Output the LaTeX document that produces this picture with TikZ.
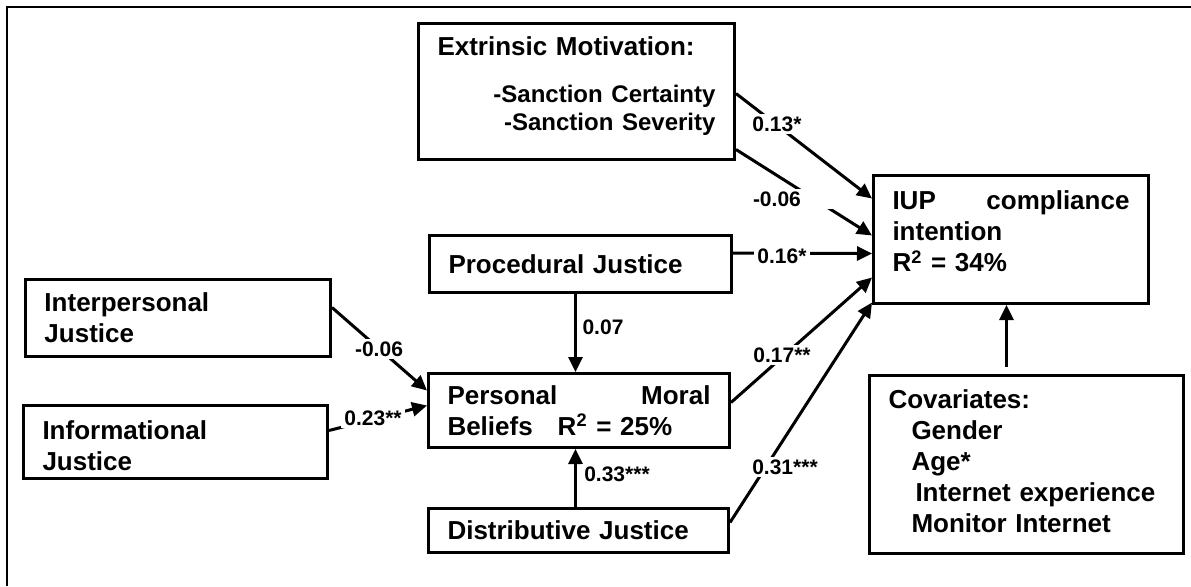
\documentclass[tikz,border=0pt]{standalone}
\usepackage{fontspec}
\setmainfont{Liberation Sans}
\usetikzlibrary{positioning}
\usetikzlibrary{arrows.meta}

\newcommand{\varfont}{\fontsize{13}{15.5}\selectfont\bfseries}
\newcommand{\itemfont}{\fontsize{12}{15.5}\selectfont}
\newcommand{\coeffont}{\fontsize{10.5}{12}\selectfont\bfseries}

\tikzset{
  var/.style={draw, line width=1.5pt, inner xsep=9.5pt, inner ysep=3pt, align=left, anchor=north west, font=\varfont},
  coef/.style={fill=white, inner sep=1.5pt, font=\coeffont},
  effect/.style={line width=1.5pt, -{Triangle[length=7.5pt,width=7pt]}}
}

\begin{document}
\begin{tikzpicture}[x=0.5pt, y=-0.5pt]
  \useasboundingbox (0,0) rectangle (1191,586);
  % frame
  \draw[line width=0.9pt] (7,586) -- (7,7) -- (1191,7);

  % constructs
  \node[var, minimum width=158pt, minimum height=68pt, text width=139pt] (ext) at (417,22)
    {Extrinsic Motivation:\\[8pt]\hfill{\itemfont -Sanction Certainty}\\[-1.5pt]\hfill{\itemfont -Sanction Severity}\rule[-8pt]{0pt}{8pt}};
  \node[var, minimum width=137.5pt, minimum height=64pt, text width=118.5pt] (iup) at (872,174)
    {IUP\hfill compliance\\intention\\R\textsuperscript{2} = 34\%\rule[-8pt]{0pt}{8pt}};
  \node[var, minimum width=151pt, minimum height=28.5pt, text width=132pt] (proc) at (428,234)
    {Procedural Justice};
  \node[var, minimum width=152.5pt, minimum height=38.5pt, text width=133.5pt] (inter) at (24,278)
    {Interpersonal\\Justice};
  \node[var, minimum width=152pt, minimum height=36.5pt, text width=133pt] (info) at (22,404)
    {\rule{0pt}{13.4pt}Informational\\Justice};
  \node[var, minimum width=150.5pt, minimum height=37pt, text width=131.5pt] (pmb) at (427,372)
    {Personal\hfill Moral\\Beliefs\hspace{12.5pt}R\textsuperscript{2} = 25\%};
  \node[var, minimum width=150pt, minimum height=22pt, text width=131pt] (dist) at (427,507)
    {Distributive Justice};
  \node[var, minimum width=157pt, minimum height=89pt, text width=138pt] (cov) at (868,374)
    {Covariates:\\\hspace*{11.5pt}Gender\\\hspace*{11.5pt}Age*\\\hspace*{13.5pt}Internet experience\\\hspace*{11.5pt}Monitor Internet\rule[-3pt]{0pt}{3pt}};

  % paths
  \draw[effect] ([yshift=-1pt]ext.east) -- ([yshift=20.5pt]iup.west);
  \draw[effect] ([yshift=-29pt]ext.east) -- ([yshift=2pt]iup.west);
  \draw[effect] ([yshift=5.5pt]proc.east) -- ([yshift=-7pt]iup.west);
  \draw[effect] ([yshift=4pt]pmb.east) -- ([yshift=-19pt]iup.west);
  \draw[effect] ([yshift=4pt]dist.east) -- ([yshift=-31.5pt]iup.west);
  \draw[effect] ([xshift=-2.5pt]proc.south) -- ([xshift=-1.75pt]pmb.north);
  \draw[effect] ([xshift=-1.5pt]dist.north) -- ([xshift=-1.75pt]pmb.south);
  \draw[effect] ([yshift=5.25pt]inter.east) -- ([yshift=10pt]pmb.west);
  \draw[effect] ([yshift=5.75pt]info.east) -- ([yshift=2.5pt]pmb.west);
  \draw[effect, shorten <=3.5pt] ([xshift=-10pt]cov.north) -- ([xshift=-2.25pt]iup.south);

  % path coefficients
  \foreach \x/\y/\t [count=\i] in {777/124/0.13*, 782/256/0.16*, 782/355/0.17**, 785/467/0.31***,
      603/327/0.07, 617/474/0.33***, 379/349/-0.06, 373/418/0.23**} {
    \node[coef] (c\i) at (\x,\y) {\t};
  }
  \node[coef, text width=40pt] (c9) at (793,199) {-0.06};
\end{tikzpicture}
\end{document}
